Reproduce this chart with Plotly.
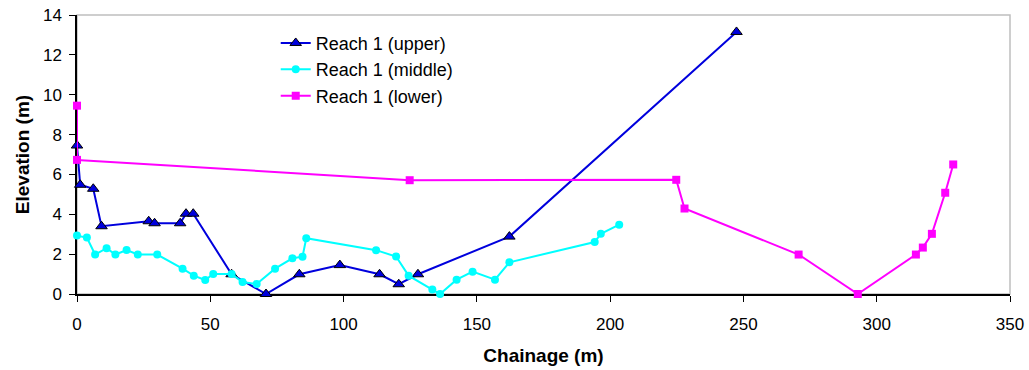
import plotly.graph_objects as go

# Channel cross-section profiles: chainage (m) vs elevation (m)
upper_x = [0, 1.2, 6.1, 9.2, 26.9, 29.1, 38.7, 40.9, 43.6, 58.0, 70.9, 83.4,
           98.6, 113.5, 120.7, 127.9, 162.2, 247.4]
upper_y = [7.45, 5.48, 5.28, 3.4, 3.65, 3.55, 3.55, 4.03, 4.03, 0.99, 0.0, 0.99,
           1.45, 0.99, 0.49, 0.99, 2.88, 13.15]

middle_x = [0, 3.7, 6.8, 11.1, 14.4, 18.6, 22.8, 30.1, 39.6, 43.8, 48.1, 51.1,
            58.0, 62.1, 67.4, 74.3, 80.8, 84.6, 86.0, 112.2, 119.7, 124.4,
            133.3, 136.2, 142.4, 148.4, 156.8, 162.2, 194.2, 196.5, 203.4]
middle_y = [2.93, 2.83, 1.98, 2.3, 1.98, 2.21, 1.98, 1.98, 1.27, 0.92, 0.7, 1.0,
            1.0, 0.6, 0.5, 1.27, 1.79, 1.87, 2.8, 2.2, 1.88, 0.92,
            0.22, 0.0, 0.72, 1.12, 0.72, 1.59, 2.61, 3.02, 3.48]

lower_x = [0, 0, 124.8, 224.8, 227.9, 270.7, 292.9, 314.7, 317.3, 320.7, 325.7, 328.7]
lower_y = [9.45, 6.73, 5.71, 5.73, 4.29, 1.98, 0.0, 1.98, 2.33, 3.02, 5.08, 6.5]

FONT = "Liberation Sans, Arial, sans-serif"

fig = go.Figure()
fig.add_trace(go.Scatter(
    x=upper_x, y=upper_y, mode="lines+markers", name="Reach 1 (upper)",
    line=dict(color="#0000DD", width=2),
    marker=dict(symbol="triangle-up", size=10, color="#0000DD",
                line=dict(color="black", width=1)),
    cliponaxis=False))
fig.add_trace(go.Scatter(
    x=middle_x, y=middle_y, mode="lines+markers", name="Reach 1 (middle)",
    line=dict(color="#00FFFF", width=2),
    marker=dict(symbol="circle", size=8, color="#00FFFF"),
    cliponaxis=False))
fig.add_trace(go.Scatter(
    x=lower_x, y=lower_y, mode="lines+markers", name="Reach 1 (lower)",
    line=dict(color="#FF00FF", width=2),
    marker=dict(symbol="square", size=8, color="#FF00FF"),
    cliponaxis=False))

# light grey frame on the top and right of the plot area
fig.add_shape(type="rect", xref="paper", yref="paper", x0=0, y0=0, x1=1, y1=1,
              line=dict(color="#BFBFBF", width=1.5), layer="below")

fig.update_layout(
    width=1029, height=370,
    margin=dict(l=77, r=19, t=15, b=76),
    paper_bgcolor="white", plot_bgcolor="white",
    font=dict(family=FONT, size=17, color="black"),
    showlegend=True,
    legend=dict(x=0.213, y=0.965, xanchor="left", yanchor="top",
                bgcolor="rgba(0,0,0,0)", font=dict(size=18),
                tracegroupgap=0),
    xaxis=dict(range=[0, 350], dtick=50, tick0=0, showgrid=False, zeroline=False,
               showline=True, linecolor="black", linewidth=1.5,
               ticks="outside", ticklen=6, tickcolor="black",
               tickfont=dict(size=17), ticklabelstandoff=8, automargin=False,
               title=dict(text="<b>Chainage (m)</b>", font=dict(size=19), standoff=16),
               layer="below traces"),
    yaxis=dict(range=[0, 14], dtick=2, tick0=0, showgrid=False, zeroline=False,
               showline=True, linecolor="black", linewidth=1.5,
               ticks="outside", ticklen=6, tickcolor="black",
               tickfont=dict(size=17), ticklabelstandoff=4, automargin=False,
               title=dict(text="<b>Elevation (m)</b>", font=dict(size=19), standoff=8),
               layer="below traces"),
)

fig.write_html("out.html")
